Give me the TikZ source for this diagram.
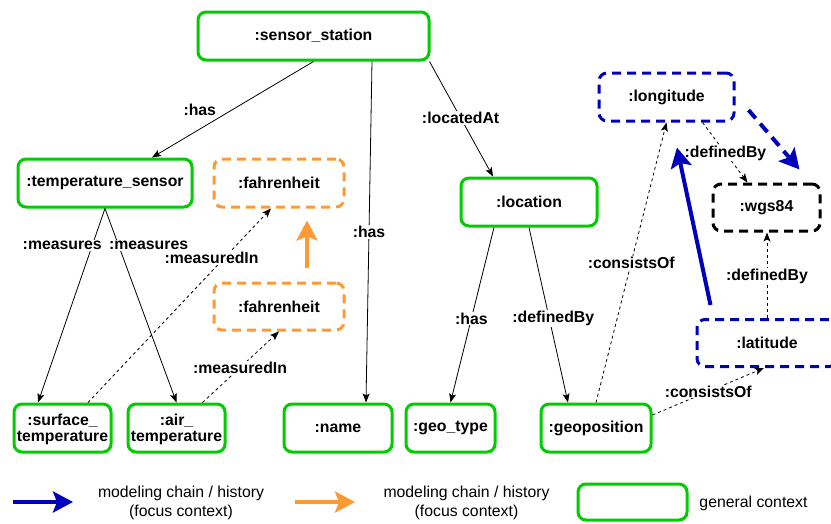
\documentclass[tikz,border=0pt]{standalone}
\usepackage{fontspec}
\setmainfont{Liberation Sans}
\usetikzlibrary{arrows.meta}
\definecolor{cgreen}{RGB}{0,204,0}
\definecolor{cblue}{RGB}{0,0,187}
\definecolor{corange}{RGB}{255,153,51}
\tikzset{
  box/.style={rounded corners=8pt, line width=3pt, fill=white, inner sep=0pt,
    font=\fontsize{15.8}{18}\selectfont\bfseries, align=center},
  gbox/.style={box, draw=cgreen},
  obox/.style={box, draw=corange, dash pattern=on 9pt off 6pt},
  bbox/.style={box, draw=cblue, dash pattern=on 9pt off 6pt},
  kbox/.style={box, draw=black, dash pattern=on 9pt off 6pt},
  rel/.style={line width=0.8pt, -{Stealth[length=9pt,width=7pt,inset=2pt]}},
  drel/.style={rel, dash pattern=on 3pt off 3pt},
  lbl/.style={font=\fontsize{15.8}{18}\selectfont\bfseries, fill=white, inner sep=1pt},
  bigarrow/.style={line width=4pt, -{Stealth[length=20pt,width=21pt,inset=4pt]}},
  legtxt/.style={font=\fontsize{15.8}{19}\selectfont, align=center, inner sep=0pt},
}
\begin{document}
\begin{tikzpicture}[x=1pt,y=-1pt]
\useasboundingbox (0,0) rectangle (831,523);

% nodes
\node[gbox, minimum width=231pt, minimum height=48pt] (ss) at (313.5,36) {:sensor\_station};
\node[gbox, minimum width=174pt, minimum height=48pt] (ts) at (105,183) {:temperature\_sensor};
\node[obox, minimum width=130pt, minimum height=48pt] (f1) at (279,183) {:fahrenheit};
\node[obox, minimum width=130pt, minimum height=47pt] (f2) at (279,306.5) {:fahrenheit};
\node[gbox, minimum width=136pt, minimum height=48pt] (loc) at (529,202) {:location};
\node[bbox, minimum width=135pt, minimum height=48pt] (lon) at (666.5,97) {:longitude};
\node[kbox, minimum width=107pt, minimum height=47pt] (wgs) at (766.5,207.5) {:wgs84};
\node[bbox, minimum width=140pt, minimum height=47pt] (lat) at (767,343) {:latitude};
\node[gbox, minimum width=97pt, minimum height=48pt] (st) at (62.5,428) {\rule{0pt}{15pt}:surface\_\\[-2pt]temperature};
\node[gbox, minimum width=97pt, minimum height=48pt] (at) at (176.5,428) {\rule{0pt}{15pt}:air\_\\[-2pt]temperature};
\node[gbox, minimum width=108pt, minimum height=48pt] (nm) at (338,428) {:name};
\node[gbox, minimum width=89pt, minimum height=48pt] (gt) at (450.5,428) {:geo\_type};
\node[gbox, minimum width=110pt, minimum height=48pt] (gp) at (596,428) {:geoposition};

% solid relations
\draw[rel] (ss.south) -- ([xshift=47pt]ts.north)
  node[lbl, fill=none, pos=0.5, xshift=-33pt] {:has};
\draw[rel] ([xshift=58.5pt]ss.south) -- ([xshift=28pt]nm.north)
  node[lbl, pos=0.5] {:has};
\draw[rel] ([xshift=-1pt]ss.south east) -- ([xshift=-36pt]loc.north)
  node[lbl, pos=0.49] {:locatedAt};
\draw[rel] (ts.south) -- ([xshift=-24.5pt]st.north)
  node[lbl, pos=0.19, xshift=-30pt] {:measures};
\draw[rel] (ts.south) -- (at.north)
  node[lbl, pos=0.19, xshift=30pt] {:measures};
\draw[rel] ([xshift=-35pt]loc.south) -- (gt.north)
  node[lbl, pos=0.52] {:has};
\draw[rel] (loc.south) -- ([xshift=-28pt]gp.north)
  node[lbl, pos=0.52, xshift=4pt] {:definedBy};

% dotted relations
\draw[drel] ([xshift=25.5pt]st.north) -- ([xshift=-8pt]f1.south)
  node[lbl, pos=0.746, xshift=-13pt] {:measuredIn};
\draw[drel] ([xshift=26pt]at.north) -- (f2.south)
  node[lbl, pos=0.49] {:measuredIn};
\draw[drel] (gp.north) -- (lon.south)
  node[lbl, pos=0.5] {:consistsOf};
\draw[drel] ([yshift=13pt]gp.east) -- ([xshift=-3pt]lat.south)
  node[lbl, pos=0.5] {:consistsOf};
\draw[drel] ([xshift=36pt]lon.south) -- ([xshift=-19pt]wgs.north)
  node[lbl, pos=0.51] {:definedBy};
\draw[drel] (lat.north) -- ([xshift=0.5pt]wgs.south)
  node[lbl, pos=0.49] {:definedBy};

% focus arrows
\draw[bigarrow, corange] ([xshift=28pt,yshift=14pt]f2.north) -- ([xshift=28pt,yshift=-12pt]f1.south);
\draw[bigarrow, cblue] ([xshift=15pt,yshift=13pt]lat.north west) -- ([xshift=10.5pt,yshift=-25pt]lon.south);
\draw[bigarrow, cblue, dash pattern=on 11pt off 7pt] ([xshift=13pt,yshift=-13pt]lon.east) -- ([xshift=-22pt,yshift=13pt]wgs.north east);

% legend
\coordinate (lb1) at (13,502);
\coordinate (lb2) at (73,502);
\coordinate (lo1) at (295,502);
\coordinate (lo2) at (355,502);
\draw[bigarrow, cblue] (lb1) -- (lb2);
\draw[bigarrow, corange] (lo1) -- (lo2);
\node[legtxt] (lt1) at (181,503) {modeling chain / history\\(focus context)};
\node[legtxt] (lt2) at (466.5,503) {modeling chain / history\\(focus context)};
\node[gbox, minimum width=109pt, minimum height=36pt] (lg) at (632.5,502) {};
\node[legtxt] (lt3) at (753.5,503) {general context};
\end{tikzpicture}
\end{document}
